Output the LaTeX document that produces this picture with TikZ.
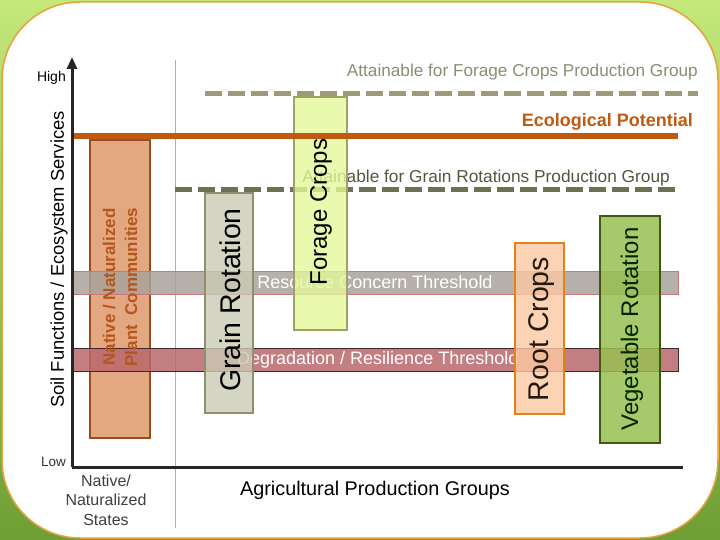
\documentclass[tikz,border=0pt]{standalone}
\usepackage{fontspec}
\setmainfont{Liberation Sans}
\usetikzlibrary{arrows.meta}
\definecolor{bgA}{HTML}{C4E87A}
\definecolor{bgB}{HTML}{6E9E34}
\definecolor{frame}{HTML}{E8A23C}
\definecolor{natfill}{HTML}{E3A882}
\definecolor{natdraw}{HTML}{9C4A1E}
\definecolor{nattext}{HTML}{B5561C}
\definecolor{eco}{HTML}{C05A10}
\definecolor{fdash}{HTML}{9E9A7A}
\definecolor{gdash}{HTML}{6F7052}
\definecolor{ftext}{HTML}{8E8C74}
\definecolor{gtext}{HTML}{55573F}
\definecolor{forfill}{HTML}{E4F89A}
\definecolor{fordraw}{HTML}{A0A068}
\definecolor{grfill}{HTML}{CACBB4}
\definecolor{grdraw}{HTML}{8E8E70}
\definecolor{resfill}{HTML}{A9A39B}
\definecolor{resdraw}{HTML}{C87878}
\definecolor{degfill}{HTML}{B8686C}
\definecolor{degdraw}{HTML}{402828}
\definecolor{rootfill}{HTML}{FCC9A2}
\definecolor{rootdraw}{HTML}{E0821E}
\definecolor{vegfill}{HTML}{98BF52}
\definecolor{vegdraw}{HTML}{3E5A12}
\definecolor{vline}{HTML}{B0C060}
\begin{document}
\begin{tikzpicture}[x=1pt,y=-1pt,
  box/.style={draw,line width=1.3pt,inner sep=0pt,anchor=center},
  band/.style={draw,line width=1pt,inner sep=0pt,minimum width=606pt,minimum height=23pt,fill opacity=0.85},
  boxlabel/.style={rotate=90,font=\fontsize{24}{26}\selectfont,inner sep=0pt},
  axis/.style={line width=3pt,black!85},
  dashline/.style={line width=5pt,dash pattern=on 17pt off 6pt}
]
\useasboundingbox (0,0) rectangle (720,540);
\shade[top color=bgA,bottom color=bgB] (0,0) rectangle (720,540);
\draw[frame,line width=1.5pt,fill=white,rounded corners=78pt] (2,2) rectangle (718,538);

% axes
\coordinate (origin) at (72,467);
\coordinate (ytop) at (72,57);
\coordinate (xend) at (683,467);
\draw[vline,line width=0.8pt] (175,60) -- (175,528);

% native box
\node[box,fill=natfill,draw=natdraw,minimum width=60pt,minimum height=298pt] (native) at (120,289) {};

% dashed lines and labels
\coordinate (fdA) at (205,94);
\coordinate (fdB) at (698,94);
\draw[dashline,fdash] (fdA) -- (fdB);
\node[anchor=east,text=ftext,font=\fontsize{17.2}{19}\selectfont,inner sep=0pt] (ftxt) at (698,72) {Attainable for Forage Crops Production Group};
\coordinate (gdA) at (175,190);
\coordinate (gdB) at (675,190);
\draw[dashline,gdash] (gdA) -- (gdB);
\node[anchor=east,text=gtext,font=\fontsize{17.3}{19}\selectfont,inner sep=0pt] (gtxt) at (670,178) {Attainable for Grain Rotations Production Group};

% bands
\node[band,fill=resfill,draw=resdraw,anchor=west] (res) at (72,282.5) {};
\node[text=white,font=\fontsize{18}{20}\selectfont,inner sep=0pt] (restxt) at (375,282.5) {Resource Concern Threshold};
\node[band,fill=degfill,draw=degdraw,anchor=west] (deg) at (72,359.5) {};
\node[text=white,font=\fontsize{18}{20}\selectfont,inner sep=0pt,anchor=west] (degtxt) at (237,360) {Degradation / Resilience Threshold};

% boxes
\node[box,fill=grfill,draw=grdraw,fill opacity=0.8,minimum width=48pt,minimum height=220pt] (grain) at (229,303) {};
\node[box,fill=forfill,draw=fordraw,fill opacity=0.8,minimum width=53pt,minimum height=233pt] (forage) at (320.5,213.5) {};
\node[box,fill=rootfill,draw=rootdraw,line width=1.8pt,fill opacity=0.8,minimum width=49pt,minimum height=171pt] (root) at (539.5,328.5) {};
\node[box,fill=vegfill,draw=vegdraw,line width=1.6pt,fill opacity=0.85,minimum width=60pt,minimum height=227pt] (veg) at (630,329.5) {};

% ecological potential
\coordinate (ecoA) at (72,136);
\coordinate (ecoB) at (678,136);
\draw[eco,line width=6pt] (ecoA) -- (ecoB);
\node[anchor=east,text=eco,font=\bfseries\fontsize{18}{20}\selectfont,inner sep=0pt] (ecotxt) at (693,122) {Ecological Potential};

% box labels
\node[boxlabel,text=nattext,font=\bfseries\fontsize{17}{22}\selectfont,align=center] (nattxt) at (120,287) {Native / Naturalized\\Plant\ \ Communities};
\node[boxlabel,font=\fontsize{28.5}{30}\selectfont] (grtxt) at (230,300) {Grain Rotation};
\node[boxlabel,font=\fontsize{24}{26}\selectfont] (fortxt) at (321,212) {Forage Crops};
\node[boxlabel,text=black!80!brown,font=\fontsize{28.5}{30}\selectfont] (roottxt) at (541,329) {Root Crops};
\node[boxlabel,text=black!85!green,font=\fontsize{24}{26}\selectfont] (vegtxt) at (632,329) {Vegetable Rotation};

% axes drawn on top
\draw[axis,-{Triangle[length=12pt,width=10pt]}] (origin) -- (ytop);
\draw[axis] (origin) -- (xend);
\node[anchor=east,font=\fontsize{14}{16}\selectfont,inner sep=0pt] (high) at (66,78) {High};
\node[anchor=east,font=\fontsize{13.5}{15}\selectfont,inner sep=0pt,text=black!80] (low) at (66,462) {Low};
\node[rotate=90,font=\fontsize{18.4}{20}\selectfont,inner sep=0pt] (ylab) at (59,259.5) {Soil Functions / Ecosystem Services};
\node[align=center,font=\fontsize{16}{19.5}\selectfont,text=black!75,inner sep=0pt] (nat) at (106,500) {Native/\\Naturalized\\States};
\node[font=\fontsize{19.8}{22}\selectfont,inner sep=0pt] (xlab) at (375,490) {Agricultural Production Groups};
\end{tikzpicture}
\end{document}
